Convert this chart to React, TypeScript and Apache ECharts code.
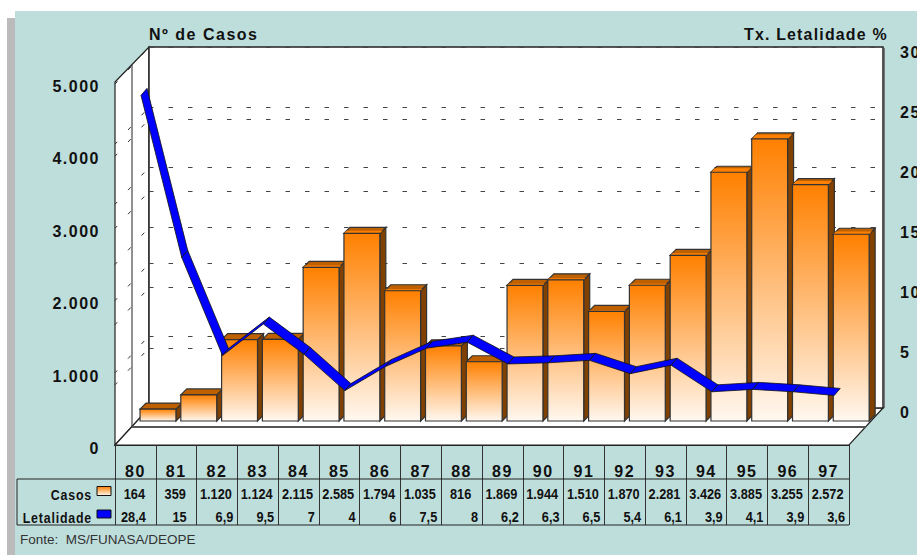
import React, { useEffect, useRef } from "react";
import * as echarts from "echarts";

const years = ["80","81","82","83","84","85","86","87","88","89","90","91","92","93","94","95","96","97"];
const casos = [164,359,1120,1124,2115,2585,1794,1035,816,1869,1944,1510,1870,2281,3426,3885,3255,2572];
const letalidade = [28.4,15,6.9,9.5,7,4,6,7.5,8,6.2,6.3,6.5,5.4,6.1,3.9,4.1,3.9,3.6];
const casosTicks = [1000,2000,3000,4000,5000];
const taxaTicks = [5,10,15,20,25,30];

const SANS = '"Liberation Sans", Arial, sans-serif';
const TEAL = "#BEDEDC";
const LINE = "#222222";

const fmtCasos = (v: number) => String(v).replace(/\B(?=(\d{3})+$)/g, ".");
const fmtTaxa = (v: number) => String(v).replace(".", ",");

const barGradient = () =>
  new echarts.graphic.LinearGradient(0, 0, 0, 1, [
    { offset: 0, color: "#FF8000" },
    { offset: 1, color: "#FFF8F0" },
  ]);

const renderBar = (params: any, api: any) => {
  const i = api.value(0);
  const v = api.value(1);
  const [cx, top] = api.coord([i, v]);
  const [, base] = api.coord([i, 0]);
  const w = api.size([1, 0])[0] * 0.88;
  const dx = 22.6;
  const dy = -24;
  const l = cx + dx - w / 2;
  const r = cx + dx + w / 2;
  const t = top + dy;
  const b = base + dy;
  const d = 6;
  const stroke = { stroke: "#333333", lineWidth: 1.2 };
  const frac = Math.max(0, Math.min(0.75, (v - 800) / 4000));
  const children: any[] = [
    { type: "polygon", shape: { points: [[r, t], [r + d, t - d], [r + d, b - d], [r, b]] }, style: { fill: "#7F4000", ...stroke } },
    { type: "polygon", shape: { points: [[l, t], [r, t], [r + d, t - d], [l + d, t - d]] }, style: { fill: "#BF6000", ...stroke } },
  ];
  if (frac > 0) {
    const s = d * frac;
    children.push({ type: "polygon", shape: { points: [[l, t], [r, t], [r + s, t - s], [l + s, t - s]] }, style: { fill: "#FF8000" } });
  }
  children.push({ type: "rect", shape: { x: l, y: t, width: r - l, height: b - t }, style: { fill: barGradient(), ...stroke } });
  return { type: "group", children };
};

const renderRibbon = (params: any, api: any) => {
  const i = api.value(0);
  const [x1, y1] = api.coord([i, api.value(1)]);
  const [x2, y2] = api.coord([i + 1, api.value(2)]);
  const ox = 5.6;
  const oy = -6;
  const bx = 6;
  const by = -7;
  return {
    type: "polygon",
    shape: {
      points: [
        [x1 + ox, y1 + oy],
        [x2 + ox, y2 + oy],
        [x2 + ox + bx, y2 + oy + by],
        [x1 + ox + bx, y1 + oy + by],
      ],
    },
    style: { fill: "#0000FF", stroke: "#111111", lineWidth: 0.8 },
  };
};

const renderWallDash = (params: any, api: any) => {
  const [, y] = api.coord([0, api.value(1)]);
  const x = params.coordSys.x;
  return {
    type: "line",
    shape: { x1: x, y1: y, x2: x - 34, y2: y + 37 },
    style: { stroke: "#333333", lineWidth: 1, lineDash: [4, 16], lineDashOffset: 13 },
  };
};

const cellStyle = (text: string, align: string) => ({
  text,
  align,
  verticalAlign: "middle",
  font: `bold 15px ${SANS}`,
  fill: "#111111",
});

const renderCasosCell = (params: any, api: any) => {
  const [cx] = api.coord([api.value(0), 0]);
  return { type: "text", x: cx - 1, y: 494, scaleX: 0.85, style: cellStyle(fmtCasos(api.value(1)), "center") };
};

const renderLetalidadeCell = (params: any, api: any) => {
  const i = api.value(0);
  const [cx] = api.coord([i, 0]);
  const half = api.size([1, 0])[0] / 2;
  const x = cx + half - (i < 2 ? 10 : 4);
  return { type: "text", x, y: 517, scaleX: 0.85, style: cellStyle(fmtTaxa(api.value(1)), "right") };
};

const bigText = { fontFamily: SANS, fontWeight: "bold" as const, fontSize: 16, color: "#111111" };

export default function App() {
  const ref = useRef<HTMLDivElement>(null);
  useEffect(() => {
    const chart = echarts.init(ref.current!, undefined, { renderer: "svg" });
    chart.setOption({
      animation: false,
      backgroundColor: "#FFFFFF",
      title: [
        { text: "Nº de Casos", left: 149, top: 26, padding: 0, textStyle: bigText },
        { text: "Tx. Letalidade %", left: 744, top: 26, padding: 0, textStyle: { ...bigText, fontSize: 15.9 } },
        { text: "Fonte:  MS/FUNASA/DEOPE", left: 20, top: 532, padding: 0, textStyle: { fontFamily: SANS, fontWeight: "normal", fontSize: 13.5, color: "#333333" } },
      ],
      grid: [
        { left: 115, top: 82, width: 734, height: 363, show: false, outerBoundsMode: "none" },
        { left: 149, top: 47, width: 734, height: 361, show: true, backgroundColor: "#FFFFFF", borderColor: "#222222", borderWidth: 1.5, outerBoundsMode: "none" },
        { left: 115, top: 86.5, width: 734, height: 362, show: false, outerBoundsMode: "none" },
        { left: 149, top: 52.5, width: 734, height: 359.5, show: false, outerBoundsMode: "none" },
      ],
      xAxis: [
        {
          type: "category", gridIndex: 0, data: years, position: "bottom",
          axisLine: { show: true, lineStyle: { color: LINE, width: 1 } },
          axisTick: { show: true, length: 80, alignWithLabel: false, lineStyle: { color: "#333333", width: 1 } },
          axisLabel: { ...bigText, margin: 18, interval: 0 },
          splitLine: { show: false },
        },
        { type: "category", gridIndex: 1, data: years, show: false },
        { type: "category", gridIndex: 2, data: years, show: false },
        { type: "category", gridIndex: 3, data: years, show: false },
      ],
      yAxis: [
        { type: "value", gridIndex: 0, min: 0, max: 5000, interval: 1000, show: false, splitLine: { show: false } },
        { type: "value", gridIndex: 0, min: 0, max: 30, interval: 5, show: false, splitLine: { show: false } },
        {
          type: "value", gridIndex: 1, min: 0, max: 5000, interval: 1000, position: "left",
          axisLine: { show: false }, axisTick: { show: false }, axisLabel: { show: false },
          splitLine: { show: true, lineStyle: { color: "#444444", width: 1, type: [4.5, 15] } },
        },
        {
          type: "value", gridIndex: 1, min: 0, max: 30, interval: 5, position: "right",
          axisLine: { show: false }, axisTick: { show: false }, axisLabel: { show: false },
          splitLine: { show: true, lineStyle: { color: "#444444", width: 1, type: [4.5, 15] } },
        },
        {
          type: "value", gridIndex: 2, min: 0, max: 5000, interval: 1000, position: "left",
          axisLine: { show: false }, axisTick: { show: false }, splitLine: { show: false },
          axisLabel: { ...bigText, margin: 15, formatter: (v: number) => fmtCasos(v) },
        },
        {
          type: "value", gridIndex: 3, min: 0, max: 30, interval: 5, position: "right",
          axisLine: { show: false }, axisTick: { show: false }, splitLine: { show: false },
          axisLabel: { ...bigText, margin: 17 },
        },
      ],
      graphic: [
        { type: "rect", z: -30, shape: { x: 7, y: 18, width: 20, height: 537 }, style: { fill: "#BBBBBB" } },
        { type: "rect", z: -20, shape: { x: 15, y: 11, width: 902, height: 544 }, style: { fill: TEAL } },
        { type: "polygon", z: -1, shape: { points: [[115, 82], [149, 47], [149, 408], [115, 445]] }, style: { fill: "#FFFFFF", stroke: LINE, lineWidth: 1.2 } },
        { type: "polygon", z: -1, shape: { points: [[115, 445], [849, 445], [883, 408], [149, 408]] }, style: { fill: "#FFFFFF", stroke: LINE, lineWidth: 1.2 } },
        { type: "line", z: 0, shape: { x1: 132, y1: 65, x2: 132, y2: 427 }, style: { stroke: LINE, lineWidth: 1 } },
        { type: "line", z: 0, shape: { x1: 132, y1: 427, x2: 865.5, y2: 427 }, style: { stroke: "#555555", lineWidth: 2 } },
        { type: "line", z: 0, shape: { x1: 884.5, y1: 48, x2: 884.5, y2: 408 }, style: { stroke: "#777777", lineWidth: 1 } },
        { type: "polyline", z: 1, shape: { points: [[17, 525], [17, 479], [849, 479]] }, style: { stroke: LINE, lineWidth: 1, fill: "none" } },
        { type: "line", z: 1, shape: { x1: 17, y1: 525, x2: 849, y2: 525 }, style: { stroke: LINE, lineWidth: 1 } },
        { type: "text", z: 2, x: 92, y: 494, scaleX: 0.8, style: { text: "Casos", align: "right", verticalAlign: "middle", font: `bold 15.5px ${SANS}`, fill: "#111111" } },
        { type: "text", z: 2, x: 92, y: 517, scaleX: 0.8, style: { text: "Letalidade", align: "right", verticalAlign: "middle", font: `bold 15.5px ${SANS}`, fill: "#111111" } },
        { type: "rect", z: 2, shape: { x: 97, y: 486.5, width: 14, height: 9 }, style: { fill: barGradient(), stroke: "#111111", lineWidth: 1 } },
        { type: "rect", z: 2, shape: { x: 97, y: 510, width: 14, height: 8 }, style: { fill: "#0000FF", stroke: "#111111", lineWidth: 1 } },
      ],
      series: [
        {
          type: "custom", name: "Parede casos", xAxisIndex: 1, yAxisIndex: 2, silent: true, z: 1,
          data: casosTicks.map((v) => [0, v]), encode: { x: 0, y: 1 }, renderItem: renderWallDash,
        },
        {
          type: "custom", name: "Parede taxa", xAxisIndex: 1, yAxisIndex: 3, silent: true, z: 1,
          data: taxaTicks.map((v) => [0, v]), encode: { x: 0, y: 1 }, renderItem: renderWallDash,
        },
        {
          type: "custom", name: "Casos", xAxisIndex: 0, yAxisIndex: 0, z: 3,
          data: casos.map((v, i) => [i, v]), encode: { x: 0, y: 1 }, renderItem: renderBar,
        },
        {
          type: "custom", name: "Letalidade", xAxisIndex: 0, yAxisIndex: 1, z: 4,
          data: letalidade.slice(0, -1).map((v, i) => [i, v, letalidade[i + 1]]), encode: { x: 0, y: 1 }, renderItem: renderRibbon,
        },
        {
          type: "custom", name: "Casos valores", xAxisIndex: 0, yAxisIndex: 0, z: 5, clip: false,
          data: casos.map((v, i) => [i, v]), encode: { x: 0, y: 1 }, renderItem: renderCasosCell,
        },
        {
          type: "custom", name: "Letalidade valores", xAxisIndex: 0, yAxisIndex: 1, z: 5, clip: false,
          data: letalidade.map((v, i) => [i, v]), encode: { x: 0, y: 1 }, renderItem: renderLetalidadeCell,
        },
      ],
    });
    return () => chart.dispose();
  }, []);
  return (
    <>
      <style>{`
        html,body{margin:0;padding:0;background:#fff;overflow:hidden}
        #chart text[style*="16px"]{letter-spacing:1.5px}
        #chart text[style*="15.9px"]{letter-spacing:1.2px}
        #chart text[style*="15.5px"]{letter-spacing:1px}
      `}</style>
      <div id="chart" ref={ref} style={{ width: 917, height: 555 }} />
    </>
  );
}
